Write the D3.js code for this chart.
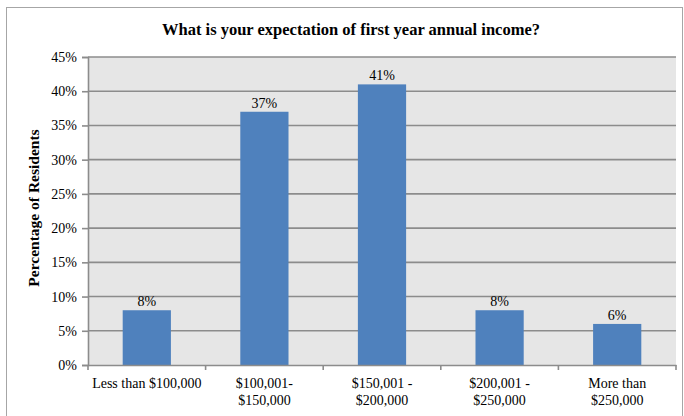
<!DOCTYPE html>
<html>
<head>
<meta charset="utf-8">
<script src="https://cdn.jsdelivr.net/npm/d3@7"></script>
<style>
  body { margin: 0; background: #fff; }
  svg text { font-family: "Liberation Serif", "Times New Roman", serif !important; fill: #000; }
</style>
</head>
<body>
<div id="canvas"></div>
<script>
var w = 684;
var h = 416;

// chart data
var categories = ["Less than $100,000", "$100,001-|$150,000", "$150,001 -|$200,000", "$200,001 -|$250,000", "More than|$250,000"];
var percents = [8, 37, 41, 8, 6];
var yTicks = [0, 5, 10, 15, 20, 25, 30, 35, 40, 45];

var svg = d3.select("#canvas").append("svg")
        .attr("width", w)
        .attr("height", h);

// outer chart frame
svg.append("rect")
    .attr("x", 6.5).attr("y", 7.5)
    .attr("width", 676).attr("height", 420)
    .attr("fill", "#fff")
    .attr("stroke", "#a6a6a6")
    .attr("stroke-width", 1);

var plot = {left: 88, top: 57, right: 676, bottom: 365};

var xScale = d3.scaleBand()
        .domain(categories)
        .range([plot.left, plot.right])
        .paddingInner(0.59)
        .paddingOuter(0.295);

var yScale = d3.scaleLinear()
        .domain([0, 45])
        .range([plot.bottom, plot.top]);

// plot background
svg.append("rect")
    .attr("x", plot.left).attr("y", plot.top)
    .attr("width", plot.right - plot.left)
    .attr("height", plot.bottom - plot.top)
    .attr("fill", "#e6e6e6");

// gridlines
svg.selectAll(".grid")
    .data(yTicks.filter(function(d){ return d > 0; }))
    .join("line")
    .attr("class", "grid")
    .attr("x1", plot.left).attr("x2", plot.right)
    .attr("y1", function(d){ return yScale(d); })
    .attr("y2", function(d){ return yScale(d); })
    .attr("stroke", "#8c8c8c")
    .attr("stroke-width", 1.6);

// bars
svg.selectAll(".bar")
    .data(percents)
    .join("rect")
    .attr("class", "bar")
    .attr("x", function(d, i){ return xScale(categories[i]); })
    .attr("y", function(d){ return yScale(d); })
    .attr("width", xScale.bandwidth())
    .attr("height", function(d){ return plot.bottom - yScale(d); })
    .attr("fill", "#4f81bd");

// value labels
svg.selectAll(".val")
    .data(percents)
    .join("text")
    .attr("class", "val")
    .attr("x", function(d, i){ return xScale(categories[i]) + xScale.bandwidth() / 2; })
    .attr("y", function(d){ return yScale(d) - 4; })
    .attr("text-anchor", "middle")
    .style("font-size", "14px")
    .text(function(d){ return d + "%"; });

// y axis
var yAxis = d3.axisLeft(yScale)
        .tickValues(yTicks)
        .tickSize(6)
        .tickFormat(function(d){ return d + "%"; });
var gy = svg.append("g")
    .attr("transform", "translate(" + plot.left + ",0)")
    .call(yAxis);
gy.attr("font-family", null).attr("font-size", null);
gy.select(".domain").attr("stroke", "#8c8c8c").attr("stroke-width", 1.6);
gy.selectAll(".tick line").attr("stroke", "#8c8c8c").attr("stroke-width", 1.6);
gy.selectAll(".tick text")
    .attr("x", -11)
    .style("font-size", "14px")
    .attr("fill", "#000");

// x axis: baseline and ticks between categories
var xAxis = d3.axisBottom(xScale).tickSize(0).tickFormat("");
var gx = svg.append("g")
    .attr("transform", "translate(0," + plot.bottom + ")")
    .call(xAxis);
gx.select(".domain").attr("stroke", "#8c8c8c").attr("stroke-width", 1.6);

var step = xScale.step();
var bounds = d3.range(categories.length + 1).map(function(i){ return plot.left + i * step; });
svg.selectAll(".xtick")
    .data(bounds)
    .join("line")
    .attr("class", "xtick")
    .attr("x1", function(d){ return d; }).attr("x2", function(d){ return d; })
    .attr("y1", plot.bottom).attr("y2", plot.bottom + 5)
    .attr("stroke", "#8c8c8c")
    .attr("stroke-width", 1.6);

// category labels (two lines where needed)
var catLabels = svg.selectAll(".cat")
    .data(categories)
    .join("text")
    .attr("class", "cat")
    .attr("text-anchor", "middle")
    .style("font-size", "14px");
catLabels.each(function(d){
    var t = d3.select(this);
    var cx = xScale(d) + xScale.bandwidth() / 2;
    d.split("|").forEach(function(line, i){
        t.append("tspan")
            .attr("x", cx)
            .attr("y", 388 + i * 17)
            .text(line);
    });
});

// title
svg.append("text")
    .attr("x", 351)
    .attr("y", 35)
    .attr("text-anchor", "middle")
    .style("font-size", "16.5px")
    .style("font-weight", "bold")
    .text("What is your expectation of first year annual income?");

// y axis title
svg.append("text")
    .attr("transform", "translate(39,208) rotate(-90)")
    .attr("text-anchor", "middle")
    .style("font-size", "15.5px")
    .style("font-weight", "bold")
    .text("Percentage of Residents");
</script>
</body>
</html>
